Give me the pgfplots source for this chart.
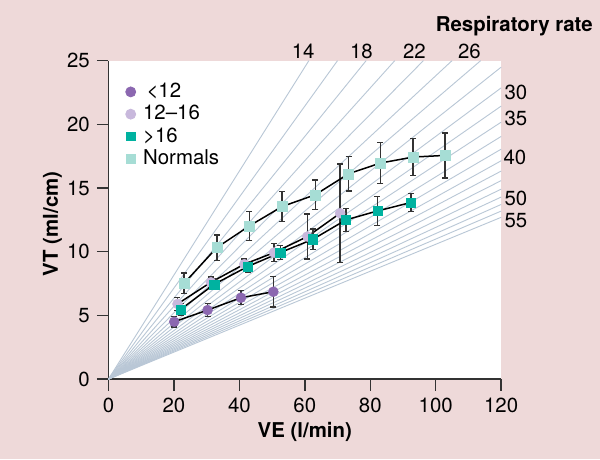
\documentclass[border=0pt]{standalone}
\usepackage{fontspec}
\setmainfont{TeX Gyre Heros}
\usepackage{pgfplots}
\pgfplotsset{compat=1.18}
\definecolor{bgpink}{HTML}{EED9D9}
\definecolor{radc}{HTML}{B9C7D6}
\definecolor{cA}{HTML}{8B67B0}
\definecolor{cB}{HTML}{C8B8DC}
\definecolor{cC}{HTML}{00B2A0}
\definecolor{cD}{HTML}{A6DDD5}
\definecolor{axc}{HTML}{333333}
\pgfplotsset{
  rad/.style={radc, line width=0.45pt, forget plot},
  ser/.style={black, line width=0.75pt, forget plot,
    error bars/y dir=both, error bars/y explicit,
    error bars/error bar style={axc, line width=0.75pt},
    error bars/error mark options={rotate=90, mark size=1.5pt, axc, line width=0.75pt}},
}
\begin{document}
\begin{tikzpicture}[font=\fontsize{10.2}{12}\selectfont]
\fill[bgpink] (-54.2pt,-40pt) rectangle (245.7pt,189.5pt);
\begin{axis}[
  at={(0,0)}, anchor=south west,
  scale only axis, width=196.3pt, height=159.2pt,
  xmin=0, xmax=120, ymin=0, ymax=25,
  xtick={0,20,...,120}, ytick={0,5,...,25},
  axis lines=left, axis line style={-, axc, line width=0.7pt},
  tick align=outside, major tick length=5.8pt,
  tick style={axc, line width=0.7pt},
  axis background/.style={fill=white},
  tick label style={font=\fontsize{10.2}{12}\selectfont},
  /pgf/number format/assume math mode=true,
  clip=false,
  legend style={at={(axis description cs:0.043,0.938)}, anchor=north west,
    draw=none, fill=none, font=\fontsize{10.2}{12}\selectfont,
    row sep=0pt, column sep=2.5pt, inner sep=0pt, nodes={inner sep=1.2pt}},
  legend cell align=left,
  legend image code/.code={\path[#1] plot coordinates {(0.1cm,0cm)};},
]
% respiratory-rate reference lines (VT = VE*1000/(175*RR))
\addplot[rad] coordinates {(0,0) (61.25,25)};
\addplot[rad] coordinates {(0,0) (70.0,25)};
\addplot[rad] coordinates {(0,0) (78.75,25)};
\addplot[rad] coordinates {(0,0) (87.5,25)};
\addplot[rad] coordinates {(0,0) (96.25,25)};
\addplot[rad] coordinates {(0,0) (105.0,25)};
\addplot[rad] coordinates {(0,0) (113.75,25)};
\addplot[rad] coordinates {(0,0) (120,24.49)};
\addplot[rad] coordinates {(0,0) (120,22.86)};
\addplot[rad] coordinates {(0,0) (120,21.43)};
\addplot[rad] coordinates {(0,0) (120,20.17)};
\addplot[rad] coordinates {(0,0) (120,19.05)};
\addplot[rad] coordinates {(0,0) (120,18.05)};
\addplot[rad] coordinates {(0,0) (120,17.14)};
\addplot[rad] coordinates {(0,0) (120,16.33)};
\addplot[rad] coordinates {(0,0) (120,15.58)};
\addplot[rad] coordinates {(0,0) (120,14.91)};
\addplot[rad] coordinates {(0,0) (120,14.29)};
\addplot[rad] coordinates {(0,0) (120,13.71)};
\addplot[rad] coordinates {(0,0) (120,13.19)};
\addplot[rad] coordinates {(0,0) (120,12.70)};
% <12
\addplot[ser, mark=*, mark size=2.5pt, mark options={fill=cA, draw=cA, line width=0.2pt}] coordinates {
 (20.1,4.50) +- (0,0.42)
 (30.3,5.42) +- (0,0.52)
 (40.5,6.39) +- (0,0.55)
 (50.4,6.86) +- (0,1.18)
};
% 12-16
\addplot[ser, mark=*, mark size=2.5pt, mark options={fill=cB, draw=cB, line width=0.2pt}] coordinates {
 (21.1,5.90) +- (0,0.50)
 (31.3,7.60) +- (0,0.42)
 (41.5,9.02) +- (0,0.40)
 (50.6,9.93) +- (0,0.70)
 (60.8,11.19) +- (0,1.78)
 (70.8,13.02) +- (0,3.88)
};
% >16
\addplot[ser, mark=square*, mark size=2.3pt, mark options={fill=cC, draw=cC, line width=0.2pt}] coordinates {
 (22.1,5.48) +- (0,0.46)
 (32.3,7.44) +- (0,0.42)
 (42.5,8.83) +- (0,0.42)
 (52.5,9.93) +- (0,0.56)
 (62.5,10.98) +- (0,0.79)
 (72.6,12.50) +- (0,0.90)
 (82.2,13.20) +- (0,1.15)
 (92.4,13.86) +- (0,0.70)
};
% Normals
\addplot[ser, mark=square*, mark size=2.5pt, mark options={fill=cD, draw=cD, line width=0.2pt}] coordinates {
 (23.1,7.52) +- (0,0.80)
 (33.1,10.32) +- (0,1.00)
 (43.1,12.03) +- (0,1.14)
 (53.1,13.55) +- (0,1.16)
 (63.2,14.47) +- (0,1.16)
 (73.4,16.12) +- (0,1.34)
 (83.1,16.96) +- (0,1.62)
 (93.1,17.43) +- (0,1.45)
 (102.9,17.56) +- (0,1.76)
};
\addlegendimage{mark=*, mark size=2.5pt, mark options={fill=cA, draw=cA}}
\addlegendentry{\,<12}
\addlegendimage{mark=*, mark size=2.5pt, mark options={fill=cB, draw=cB}}
\addlegendentry{12–16}
\addlegendimage{mark=square*, mark size=2.2pt, mark options={fill=cC, draw=cC}}
\addlegendentry{>16}
\addlegendimage{mark=square*, mark size=2.2pt, mark options={fill=cD, draw=cD}}
\addlegendentry{Normals}
% rate labels
\node[anchor=base] at ([yshift=1.2pt]axis cs:59.5,25) {14};
\node[anchor=base] at ([yshift=1.2pt]axis cs:77.3,25) {18};
\node[anchor=base] at ([yshift=1.2pt]axis cs:93.5,25) {22};
\node[anchor=base] at ([yshift=1.2pt]axis cs:110.3,25) {26};
\node[anchor=west, inner sep=0pt] at ([xshift=1.5pt]axis cs:120,22.5) {30};
\node[anchor=west, inner sep=0pt] at ([xshift=1.5pt]axis cs:120,20.44) {35};
\node[anchor=west, inner sep=0pt] at ([xshift=1.0pt]axis cs:120,17.4) {40};
\node[anchor=west, inner sep=0pt] at ([xshift=1.5pt]axis cs:120,14.16) {50};
\node[anchor=west, inner sep=0pt] at ([xshift=1.5pt]axis cs:120,12.44) {55};
\node[anchor=base east, inner sep=0pt, font=\fontsize{10.2}{12}\selectfont\bfseries] at ([xshift=46pt,yshift=14.5pt]axis description cs:1,1) {Respiratory rate};
% axis titles
\node[font=\fontsize{10.2}{12}\selectfont\bfseries] at ([yshift=-26.5pt]axis description cs:0.5,0) {VE (l/min)};
\node[rotate=90, font=\fontsize{10.2}{12}\selectfont\bfseries] at ([xshift=-28pt,yshift=-2pt]axis description cs:0,0.5) {VT (ml/cm)};
\end{axis}
\end{tikzpicture}
\end{document}
